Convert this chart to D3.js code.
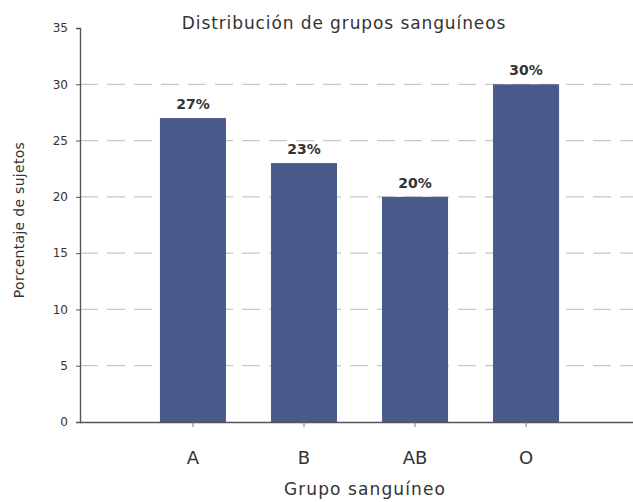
<!DOCTYPE html>
<html>
<head>
<meta charset="utf-8">
<script src="https://cdn.jsdelivr.net/npm/d3@7"></script>
<style>
  html, body { margin: 0; padding: 0; background: #fff; }
  svg { display: block; }
  text { font-family: "DejaVu Sans", sans-serif; fill: #333; }
</style>
</head>
<body>
<svg id="chart" width="633" height="502"></svg>
<script>
// Blood group distribution (percentage of subjects)
const categories = ["A", "B", "AB", "O"];
const values = [27, 23, 20, 30];
const valueLabels = ["27%", "23%", "20%", "30%"];
const yTicks = [0, 5, 10, 15, 20, 25, 30, 35];

const title = "Distribución de grupos sanguíneos";
const xTitle = "Grupo sanguíneo";
const yTitle = "Porcentaje de sujetos";

const svg = d3.select("#chart");
const margin = { left: 80, top: 28, bottom: 80 };
const H = 502;

const x = d3.scaleBand()
  .domain(categories)
  .range([margin.left, 639])
  .paddingInner(0.405)
  .paddingOuter(0.72);

const y = d3.scaleLinear()
  .domain([0, 35])
  .range([H - margin.bottom, margin.top]);

// dashed gridlines
svg.append("g")
  .selectAll("line")
  .data(yTicks.filter(d => d > 0 && d < 35))
  .join("line")
  .attr("x1", margin.left)
  .attr("x2", 633)
  .attr("y1", d => y(d))
  .attr("y2", d => y(d))
  .attr("stroke", "#c8c8c8")
  .attr("stroke-width", 1.2)
  .attr("stroke-dasharray", "18,9");

// bars
svg.append("g")
  .selectAll("rect")
  .data(values)
  .join("rect")
  .attr("x", (d, i) => x(categories[i]))
  .attr("width", x.bandwidth())
  .attr("y", d => y(d))
  .attr("height", d => y(0) - y(d))
  .attr("fill", "#4b5a8d");

// value labels
svg.append("g")
  .selectAll("text")
  .data(values)
  .join("text")
  .attr("x", (d, i) => x(categories[i]) + x.bandwidth() / 2)
  .attr("y", d => y(d) - 9)
  .attr("text-anchor", "middle")
  .attr("font-size", 14)
  .attr("font-weight", "bold")
  .attr("fill", "#3a3a3a")
  .text((d, i) => valueLabels[i]);

// y axis
const yAxis = svg.append("g")
  .attr("transform", `translate(${margin.left},0)`)
  .call(d3.axisLeft(y).tickValues(yTicks).tickSize(4).tickPadding(8));
yAxis.select(".domain").attr("stroke", "#555").attr("stroke-width", 1.4);
yAxis.selectAll(".tick line").attr("stroke", "#555");
yAxis.selectAll(".tick text")
  .attr("font-size", 12)
  .attr("font-family", "DejaVu Sans, sans-serif")
  .attr("fill", "#333");

// x axis
const xAxis = svg.append("g")
  .attr("transform", `translate(0,${y(0)})`)
  .call(d3.axisBottom(x).tickSize(5).tickPadding(24));
xAxis.select(".domain")
  .attr("d", `M${margin.left},0.5H633`)
  .attr("stroke", "#555").attr("stroke-width", 1.4);
xAxis.selectAll(".tick line").attr("stroke", "#777");
xAxis.selectAll(".tick text")
  .attr("font-size", 18)
  .attr("font-family", "DejaVu Sans, sans-serif")
  .attr("fill", "#333");

// titles
svg.append("text")
  .attr("x", 344)
  .attr("y", 29)
  .attr("text-anchor", "middle")
  .attr("font-size", 17)
  .attr("letter-spacing", 0.9)
  .text(title);

svg.append("text")
  .attr("x", 365)
  .attr("y", 495)
  .attr("text-anchor", "middle")
  .attr("font-size", 17)
  .attr("letter-spacing", 1.1)
  .text(xTitle);

svg.append("text")
  .attr("transform", "translate(24,220) rotate(-90)")
  .attr("text-anchor", "middle")
  .attr("font-size", 14)
  .attr("letter-spacing", 0.3)
  .text(yTitle);
</script>
</body>
</html>
